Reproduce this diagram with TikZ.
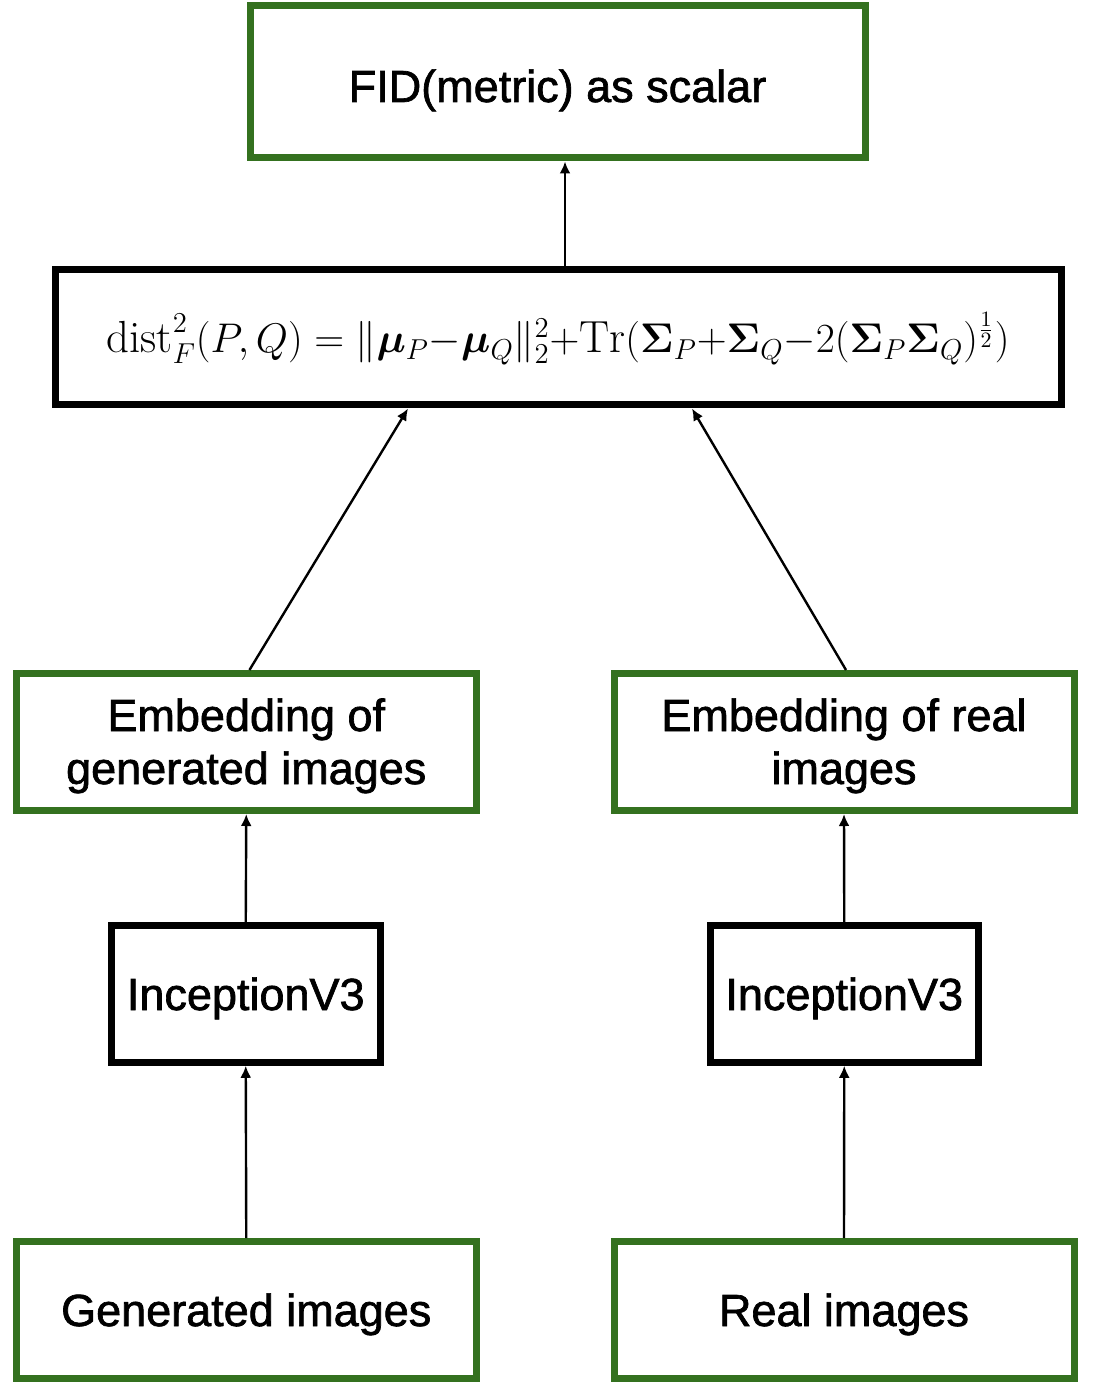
\documentclass[tikz,border=0pt]{standalone}
\usepackage{amsmath,amssymb,bm}
\usepackage{graphicx}
\usepackage{fontspec}
\setsansfont{Liberation Sans}[UprightFeatures={FakeBold=1.5}]
\usepackage{tikz}
\usetikzlibrary{arrows.meta}
\definecolor{boxgreen}{HTML}{34711F}

\begin{document}
\begin{tikzpicture}[x=0.5pt,y=-0.5pt,
    greenbox/.style={draw=boxgreen,line width=3.5pt,rectangle,align=center,
      font=\sffamily\fontsize{22.5}{26.5}\selectfont,text height=16pt,text depth=0pt},
    blackbox/.style={draw=black,line width=3.5pt,rectangle,align=center,
      font=\sffamily\fontsize{22.5}{26.5}\selectfont,text height=16pt,text depth=0pt},
    twolines/.style={text height=42pt},
    arr/.style={-{Latex[length=6pt,width=5.5pt]},line width=1.2pt}]
    \useasboundingbox (0,0) rectangle (1094,1384);

    % Draw the metric and the formula
    \node[greenbox,minimum width=307.5pt,minimum height=76pt,text height=20pt] (fid) at (557.5,82) {FID(metric) as scalar};
    \node[blackbox,minimum width=503pt,minimum height=67.5pt,text height=15.5pt] (formula) at (558,337.5) {%
      \resizebox{451.5pt}{!}{$\medmuskip=0mu
        \mathrm{dist}^2_F(P,Q)=\|\bm{\mu}_P-\bm{\mu}_Q\|_2^2+\mathrm{Tr}(\bm{\Sigma}_P+\bm{\Sigma}_Q-2(\bm{\Sigma}_P\bm{\Sigma}_Q)^{\frac{1}{2}})$}};

    % Draw the embeddings
    \node[greenbox,twolines,minimum width=229.75pt,minimum height=68.5pt] (embgen) at (246.25,742) {Embedding of\\generated images};
    \node[greenbox,twolines,minimum width=230pt,minimum height=68.5pt] (embreal) at (844,742) {Embedding of real\\images};

    % Draw the networks
    \node[blackbox,minimum width=134.25pt,minimum height=68.25pt] (incgen) at (245.75,994) {InceptionV3};
    \node[blackbox,minimum width=134.25pt,minimum height=68.25pt] (increal) at (844.25,994) {InceptionV3};

    % Draw the inputs
    \node[greenbox,minimum width=229.75pt,minimum height=68.5pt] (gen) at (246.25,1310) {Generated images};
    \node[greenbox,minimum width=230pt,minimum height=68.5pt] (real) at (844,1310) {Real images};

    % Add arrows
    \draw[arr] (gen.north) -- (incgen.south);
    \draw[arr] (real.north) -- (increal.south);
    \draw[arr] (incgen.north) -- (embgen.south);
    \draw[arr] (increal.north) -- (embreal.south);
    \draw[arr] ([xshift=1.6pt]embgen.north) -- ([xshift=-75pt]formula.south);
    \draw[arr] ([xshift=1pt]embreal.north) -- ([xshift=67pt]formula.south);
    \draw[arr] ([xshift=3.5pt]formula.north) -- ([xshift=3.75pt]fid.south);
\end{tikzpicture}
\end{document}
